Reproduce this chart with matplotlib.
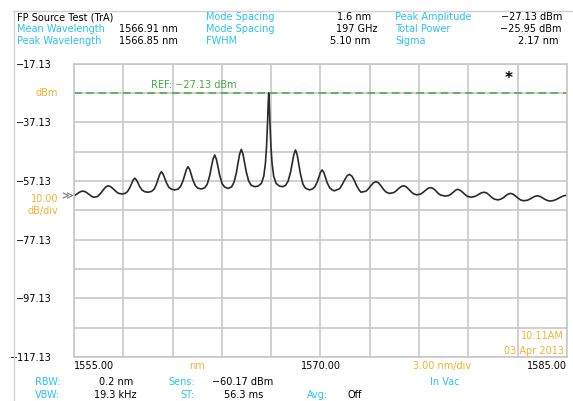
import matplotlib
matplotlib.use("Agg")
import matplotlib.pyplot as plt

wavelength = [
    1555.00, 1555.15, 1555.30, 1555.42, 1555.53, 1555.68, 1555.83, 1555.98, 1556.10, 1556.20,
    1556.40, 1556.48, 1556.63, 1556.78, 1556.93, 1557.08, 1557.23, 1557.38, 1557.53, 1557.68, 1557.90,
    1558.10, 1558.25, 1558.40, 1558.50, 1558.60, 1558.70, 1558.80, 1558.90, 1559.00, 1559.15, 1559.30, 1559.50,
    1559.72, 1559.87, 1560.02, 1560.12, 1560.22, 1560.32, 1560.42, 1560.52, 1560.62, 1560.77, 1560.92, 1561.13,
    1561.34, 1561.49, 1561.64, 1561.74, 1561.84, 1561.94, 1562.04, 1562.14, 1562.24, 1562.39, 1562.54, 1562.75,
    1562.96, 1563.11, 1563.26, 1563.36, 1563.46, 1563.56, 1563.66, 1563.76, 1563.86, 1564.01, 1564.16, 1564.37,
    1564.58, 1564.73, 1564.88, 1564.98, 1565.08, 1565.18, 1565.28, 1565.38, 1565.48, 1565.63, 1565.78, 1566.00,
    1566.20, 1566.40, 1566.55, 1566.65, 1566.72, 1566.78, 1566.82, 1566.85, 1566.88, 1566.92, 1566.98, 1567.05,
    1567.15, 1567.30, 1567.50, 1567.70,
    1567.88, 1568.03, 1568.18, 1568.28, 1568.38, 1568.48, 1568.58, 1568.68, 1568.78, 1568.93, 1569.08, 1569.33,
    1569.50, 1569.65, 1569.80, 1569.90, 1570.00, 1570.10, 1570.20, 1570.30, 1570.40, 1570.55, 1570.70, 1570.85,
    1571.16, 1571.31, 1571.46, 1571.61, 1571.76, 1571.91, 1572.06, 1572.21, 1572.36, 1572.47,
    1572.78, 1572.93, 1573.08, 1573.23, 1573.38, 1573.53, 1573.68, 1573.83, 1573.98, 1574.19,
    1574.46, 1574.61, 1574.76, 1574.91, 1575.06, 1575.21, 1575.36, 1575.51, 1575.66, 1575.85,
    1576.10, 1576.25, 1576.40, 1576.55, 1576.70, 1576.85, 1577.00, 1577.15, 1577.30, 1577.60,
    1577.80, 1577.95, 1578.10, 1578.22, 1578.34, 1578.49, 1578.64, 1578.79, 1578.94, 1579.15,
    1579.36, 1579.51, 1579.66, 1579.81, 1579.96, 1580.11, 1580.26, 1580.41, 1580.56, 1580.80,
    1580.97, 1581.12, 1581.27, 1581.42, 1581.57, 1581.72, 1581.87, 1582.02, 1582.17, 1582.37,
    1582.60, 1582.75, 1582.90, 1583.05, 1583.20, 1583.35, 1583.50, 1583.65, 1583.80, 1583.97,
    1584.20, 1584.40, 1584.60, 1584.80, 1585.00,
]
power = [
    -62.2, -61.7, -61.1, -60.75, -60.6, -60.8, -61.35, -62.0, -62.5, -62.7,
    -62.5, -62.2, -61.3, -60.2, -59.2, -58.8, -59.1, -59.8, -60.6, -61.3, -61.6,
    -61.4, -60.8, -59.4, -58.1, -56.85, -56.2, -56.8, -57.9, -59.1, -60.3, -60.8, -61.0,
    -60.7, -60.0, -58.2, -56.45, -54.85, -54.0, -54.75, -56.2, -57.7, -59.3, -59.95, -60.2,
    -59.9, -59.0, -57.0, -55.1, -53.25, -52.3, -53.2, -55.0, -56.9, -58.8, -59.6, -59.9,
    -59.45, -58.2, -55.3, -52.4, -49.7, -48.3, -49.7, -52.3, -55.1, -58.0, -59.2, -59.7,
    -59.2, -57.7, -54.4, -51.05, -48.0, -46.4, -47.9, -50.85, -54.0, -57.2, -58.6, -59.1,
    -58.9, -58.0, -55.5, -51.0, -45.0, -37.0, -30.5, -27.13, -30.5, -37.0, -45.0, -51.0,
    -55.5, -58.0, -58.9, -59.1,
    -58.6, -57.2, -54.1, -51.0, -48.1, -46.6, -48.2, -51.4, -54.8, -58.2, -59.6, -60.2,
    -59.9, -59.2, -57.5, -55.8, -54.2, -53.4, -54.25, -55.9, -57.7, -59.4, -60.2, -60.5,
    -59.8, -58.5, -56.9, -55.45, -54.9, -55.5, -57.0, -58.9, -60.3, -61.0,
    -60.6, -59.7, -58.65, -57.75, -57.4, -57.8, -58.8, -60.0, -60.9, -61.4,
    -61.1, -60.5, -59.7, -59.05, -58.8, -59.1, -59.9, -60.8, -61.5, -61.9,
    -61.6, -61.0, -60.3, -59.65, -59.4, -59.7, -60.4, -61.3, -61.95, -62.3,
    -62.1, -61.6, -60.9, -60.3, -60.0, -60.3, -60.95, -61.75, -62.4, -62.7,
    -62.5, -62.1, -61.6, -61.15, -61.0, -61.25, -61.9, -62.7, -63.3, -63.6,
    -63.35, -62.9, -62.2, -61.6, -61.4, -61.65, -62.3, -63.0, -63.6, -63.9,
    -63.7, -63.3, -62.8, -62.4, -62.2, -62.4, -62.85, -63.4, -63.8, -64.0,
    -63.8, -63.3, -62.7, -62.2, -62.0,
]

ref_level = -27.13
y_top, y_bottom = -17.13, -117.13
x_start, x_stop = 1555.0, 1585.0
y_grid = [-17.13, -27.13, -37.13, -47.13, -57.13, -67.13, -77.13, -87.13, -97.13, -107.13, -117.13]
y_labels = ['\u221217.13', '', '\u221237.13', '', '\u221257.13', '', '\u221277.13', '',
            '\u221297.13', '', '\u2212117.13']
x_grid = [1555, 1558, 1561, 1564, 1567, 1570, 1573, 1576, 1579, 1582, 1585]
x_labels = ['1555.00', '', '', '', '', '1570.00', '', '', '', '', '1585.00']
marker_pos = (1581.47, -22.2)

CYAN = '#2cc3ef'
ORANGE = '#f2b134'
GREEN = '#44aa44'
GRID = '#c8c8c8'

W, H = 573, 401
fig = plt.figure(figsize=(W / 100, H / 100), dpi=100)
plt.rcParams['font.family'] = 'DejaVu Sans'
FS = 7


def put(x, y, s, color='black', ha='left', va='center', size=FS):
    # place text in pixel coords of the screen grab
    fig.text(x / W, 1 - y / H, s, color=color, ha=ha, va=va, fontsize=size)


ax = fig.add_axes([74 / W, 1 - 357 / H, 493 / W, 293.5 / H])
ax.plot(wavelength, power, color='#2a2a2a', lw=1.2)
ax.axhline(ref_level, color=GREEN, lw=1.1, ls=(0, (5, 3)))
ax.text(1559.7, ref_level + 0.9, 'REF: \u221227.13 dBm', color=GREEN, fontsize=FS, va='bottom')
ax.text(marker_pos[0], marker_pos[1], '*', fontsize=11, fontweight='bold', ha='center', va='center')

ax.set_xlim(x_start, x_stop)
ax.set_ylim(y_bottom, y_top)
ax.set_yticks(y_grid)
ax.set_yticklabels(y_labels, fontsize=FS)
ax.set_xticks(x_grid)
ax.set_xticklabels(x_labels, fontsize=FS)
xl = ax.get_xticklabels()
xl[0].set_ha('left')
xl[-1].set_ha('right')
ax.tick_params(length=0, pad=3)
ax.tick_params(axis='y', pad=16)
ax.grid(True, color=GRID, lw=1.2)
for s in ax.spines.values():
    s.set_color(GRID)
    s.set_linewidth(1.2)
ax.set_axisbelow(True)

# outer frame lines
fig.add_artist(plt.Line2D([13 / W, 1], [1 - 11 / H, 1 - 11 / H], color='#d0d0d0', lw=1))
fig.add_artist(plt.Line2D([14 / W, 14 / W], [0, 1 - 11 / H], color='#d0d0d0', lw=1))

# header block
put(17, 17, 'FP Source Test (TrA)')
put(17, 29, 'Mean Wavelength', CYAN)
put(17, 41.5, 'Peak Wavelength', CYAN)
put(119, 29, '1566.91 nm')
put(119, 41.5, '1566.85 nm')
put(206, 17, 'Mode Spacing', CYAN)
put(206, 29, 'Mode Spacing', CYAN)
put(206, 41.5, 'FWHM', CYAN)
put(371, 17, '1.6 nm', ha='right')
put(377, 29, '197 GHz', ha='right')
put(370, 41.5, '5.10 nm', ha='right')
put(395, 17, 'Peak Amplitude', CYAN)
put(395, 29, 'Total Power', CYAN)
put(395, 41.5, 'Sigma', CYAN)
put(562, 17, '\u221227.13 dBm', ha='right')
put(562, 29, '\u221225.95 dBm', ha='right')
put(558, 41.5, '2.17 nm', ha='right')

# left side annotations
put(58, 93, 'dBm', ORANGE, ha='right')
put(58, 205, '10.00\ndB/div', ORANGE, ha='right')
put(67, 196, '\u226b', '#666666', ha='center', size=8)

# bottom annotations
put(197, 366, 'nm', ORANGE, ha='center')
put(442, 366, '3.00 nm/div', ORANGE, ha='center')
put(564, 336, '10:11AM', ORANGE, ha='right')
put(564, 351, '03 Apr 2013', ORANGE, ha='right')
put(35, 382, 'RBW:', CYAN)
put(35, 395, 'VBW:', CYAN)
put(133, 382, '0.2 nm', ha='right')
put(136, 395, '19.3 kHz', ha='right')
put(168, 382, 'Sens:', CYAN)
put(180, 395, 'ST:', CYAN)
put(212, 382, '\u221260.17 dBm')
put(224, 395, '56.3 ms')
put(307, 395, 'Avg:', CYAN)
put(348, 395, 'Off')
put(445, 382, 'In Vac', CYAN, ha='center')

fig.savefig('out.png', dpi=100)
